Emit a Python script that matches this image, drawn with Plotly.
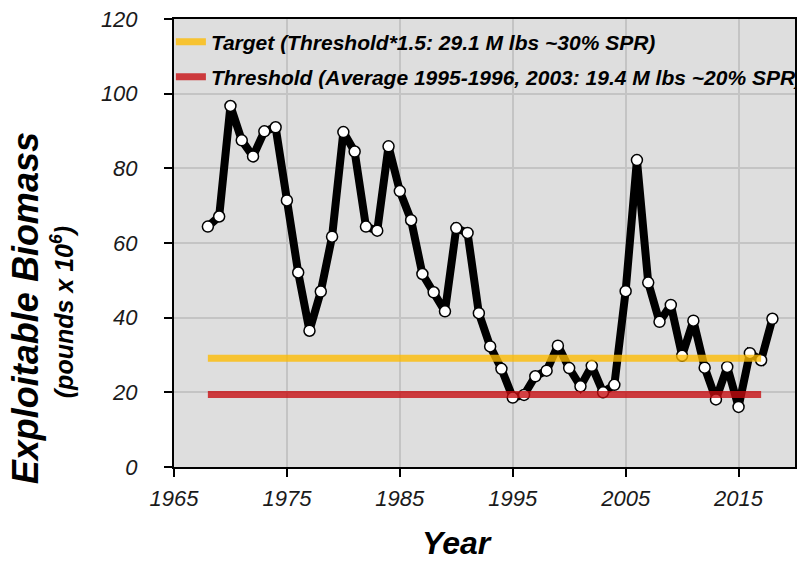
import plotly.graph_objects as go

years = list(range(1968, 2019))
biomass = [64.4, 67.1, 96.7, 87.5, 83.2, 89.9, 91.0, 71.4, 52.1, 36.5,
           47.0, 61.7, 89.7, 84.5, 64.4, 63.3, 85.9, 73.9, 66.1, 51.7,
           46.8, 41.7, 64.0, 62.7, 41.2, 32.3, 26.3, 18.6, 19.3, 24.3,
           25.8, 32.5, 26.5, 21.6, 27.1, 20.0, 22.0, 47.1, 82.2, 49.4,
           38.9, 43.4, 29.8, 39.2, 26.6, 18.1, 26.8, 16.1, 30.5, 28.6,
           39.7]

ref_years = [1968, 2017]
target_value = 29.1
threshold_value = 19.4
target_label = "<b><i>Target (Threshold*1.5: 29.1 M lbs ~30% SPR)</i></b>"
threshold_label = "<b><i>Threshold (Average 1995-1996, 2003: 19.4 M lbs ~20% SPR)</i></b>"

x_ticks = [1965, 1975, 1985, 1995, 2005, 2015]
y_ticks = [0, 20, 40, 60, 80, 100, 120]

FONT = "Liberation Sans, Arial, sans-serif"

fig = go.Figure()

fig.add_trace(go.Scatter(
    x=years, y=biomass, mode="lines+markers",
    line=dict(color="black", width=8),
    marker=dict(size=11, color="white", line=dict(color="black", width=1.5)),
    showlegend=False, hoverinfo="x+y"))

fig.add_trace(go.Scatter(
    x=ref_years, y=[target_value] * len(ref_years), mode="lines",
    line=dict(color="rgba(254,187,0,0.78)", width=7),
    name=target_label, legend="legend"))

fig.add_trace(go.Scatter(
    x=ref_years, y=[threshold_value] * len(ref_years), mode="lines",
    line=dict(color="rgba(198,10,14,0.78)", width=7),
    name=threshold_label, legend="legend2"))

axis_common = dict(
    showline=True, linecolor="black", linewidth=2, mirror=True,
    ticks="outside", ticklen=8, tickwidth=1.5, tickcolor="black",
    showgrid=True, gridcolor="#c4c4c4", gridwidth=1.5, zeroline=False,
    tickfont=dict(family=FONT, size=22, color="#1a1a1a", style="italic"),
)

fig.update_xaxes(range=[1965, 2020], tickvals=x_ticks, ticklabelstandoff=3, **axis_common)
fig.update_yaxes(range=[0, 120], tickvals=y_ticks, ticklabelstandoff=22, **axis_common)

legend_common = dict(
    xref="paper", yref="paper", xanchor="left", yanchor="middle",
    bgcolor="rgba(0,0,0,0)", borderwidth=0,
    font=dict(family=FONT, size=21, color="black"),
    itemwidth=30,
)

fig.update_layout(
    width=797, height=565,
    margin=dict(l=174, r=2, t=19, b=98, autoexpand=False),
    paper_bgcolor="white", plot_bgcolor="#dedede",
    font=dict(family=FONT),
    legend=dict(x=-0.005, y=(467 - 42) / 448, **legend_common),
    legend2=dict(x=-0.005, y=(467 - 77) / 448, **legend_common),
    annotations=[
        dict(text="<b><i>Exploitable Biomass</i></b>", xref="paper", yref="paper",
             x=-0.238, y=0.355, xanchor="center", yanchor="middle", textangle=-90,
             showarrow=False, font=dict(family=FONT, size=36, color="black")),
        dict(text="<b><i>(pounds x 10<sup>6</sup>)</i></b>", xref="paper", yref="paper",
             x=-0.18, y=0.346, xanchor="center", yanchor="middle", textangle=-90,
             showarrow=False, font=dict(family=FONT, size=25, color="black")),
        dict(text="<b><i>Year</i></b>", xref="paper", yref="paper",
             x=(457 - 174) / 621, y=(467 - 543) / 448, xanchor="center", yanchor="middle",
             showarrow=False, font=dict(family=FONT, size=32, color="black")),
    ],
)

fig.write_html("out.html", config={"displayModeBar": False},
               post_script="document.body.style.margin='0';document.body.style.overflow='hidden';")
